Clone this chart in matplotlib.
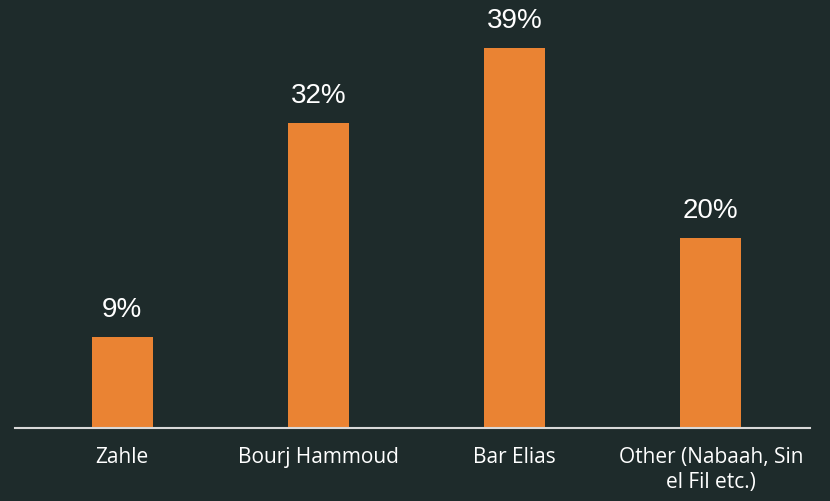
import matplotlib.pyplot as plt

# data (bar heights, labels as printed)
categories = ['Zahle', 'Bourj Hammoud', 'Bar Elias', 'Other (Nabaah, Sin\nel Fil etc.)']
values = [9.3, 31.3, 39.0, 19.5]
value_labels = ['9%', '32%', '39%', '20%']

bg = '#1e2b2b'
bar_color = '#ea8333'

fig = plt.figure(figsize=(8.3, 5.01), dpi=100, facecolor=bg)
ax = fig.add_axes([15 / 830, 73 / 501, 795 / 830, 428 / 501])
ax.set_facecolor(bg)

x = range(len(categories))
bars = ax.bar(x, values, width=0.31, color=bar_color)

for b, lab in zip(bars, value_labels):
    ax.annotate(lab, (b.get_x() + b.get_width() / 2, b.get_height()),
                xytext=(0, 14.5), textcoords='offset points',
                ha='center', va='baseline', color='white',
                fontsize=20, family=['Liberation Sans', 'DejaVu Sans'])

ax.set_xlim(-0.546, 3.505)
ax.set_ylim(0, 43.9)

for s in ['top', 'right', 'left']:
    ax.spines[s].set_visible(False)
ax.spines['bottom'].set_color('#d9d9d9')
ax.spines['bottom'].set_linewidth(1.5)

ax.set_yticks([])
ax.set_xticks(list(x))
ax.set_xticklabels(categories, color='white', fontsize=15,
                   family=['Open Sans', 'DejaVu Sans'])
ax.tick_params(axis='x', length=0, pad=14)

fig.savefig('out.png', dpi=100, facecolor=bg)
